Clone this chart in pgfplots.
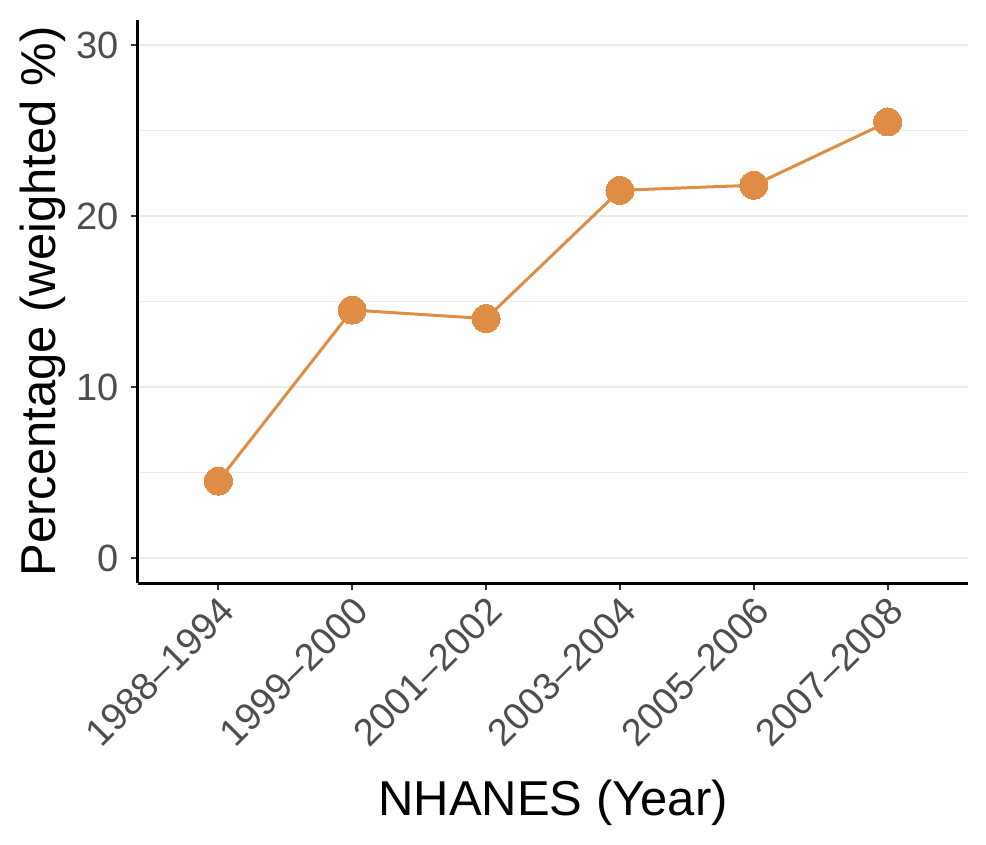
\documentclass[border=0pt]{standalone}
\usepackage{pgfplots}
\pgfplotsset{compat=1.18}
\usepackage{fontspec}
\setmainfont{Liberation Sans}
\definecolor{lineorange}{HTML}{DF8D45}
\definecolor{gridc}{HTML}{EBEBEB}
\definecolor{tickc}{HTML}{4D4D4D}
\definecolor{tickline}{HTML}{333333}
\begin{document}
\begin{tikzpicture}
\begin{axis}[
  width=415bp, height=281.5bp, scale only axis,
  xmin=-0.6, xmax=5.6, ymin=-1.46, ymax=31.46,
  axis x line*=bottom, axis y line*=left,
  axis line style={line width=1.5bp, black, -},
  xtick={0,1,2,3,4,5},
  xticklabels={1988–1994,1999–2000,2001–2002,2003–2004,2005–2006,2007–2008},
  ytick={0,10,20,30}, minor ytick={5,15,25},
  ymajorgrids, yminorgrids,
  major grid style={gridc, line width=1.1bp},
  minor grid style={gridc, line width=0.6bp},
  tick align=outside, major tick length=3.5bp, minor tick length=0bp,
  tick style={tickline, line width=1bp},
  /pgf/number format/assume math mode=true,
  yticklabel style={font=\fontsize{19bp}{19bp}\selectfont, text=tickc, inner sep=0pt, anchor=east, xshift=-6bp},
  xticklabel style={font=\fontsize{19bp}{19bp}\selectfont, text=tickc, inner sep=0pt, anchor=north east, xshift=-0.3bp, yshift=-2.1bp, rotate=45},
  xlabel={NHANES (Year)}, ylabel={Percentage (weighted \%)},
  label style={font=\fontsize{24.5bp}{24.5bp}\selectfont, text=black},
  xlabel style={at={([yshift=-116bp]axis description cs:0.5,0)}, anchor=base},
  ylabel style={at={([xshift=-41bp]axis description cs:0,0.5)}, anchor=base, rotate=0},
]
\addplot[lineorange, line width=1.5bp, mark=*, mark size=7bp, mark options={fill=lineorange, draw=lineorange, line width=0pt}]
  coordinates {(0,4.5) (1,14.5) (2,14.0) (3,21.5) (4,21.8) (5,25.5)};
\end{axis}
\pgfresetboundingbox
\path (-69bp,-131bp) rectangle (424bp,291.5bp);
\end{tikzpicture}
\end{document}
